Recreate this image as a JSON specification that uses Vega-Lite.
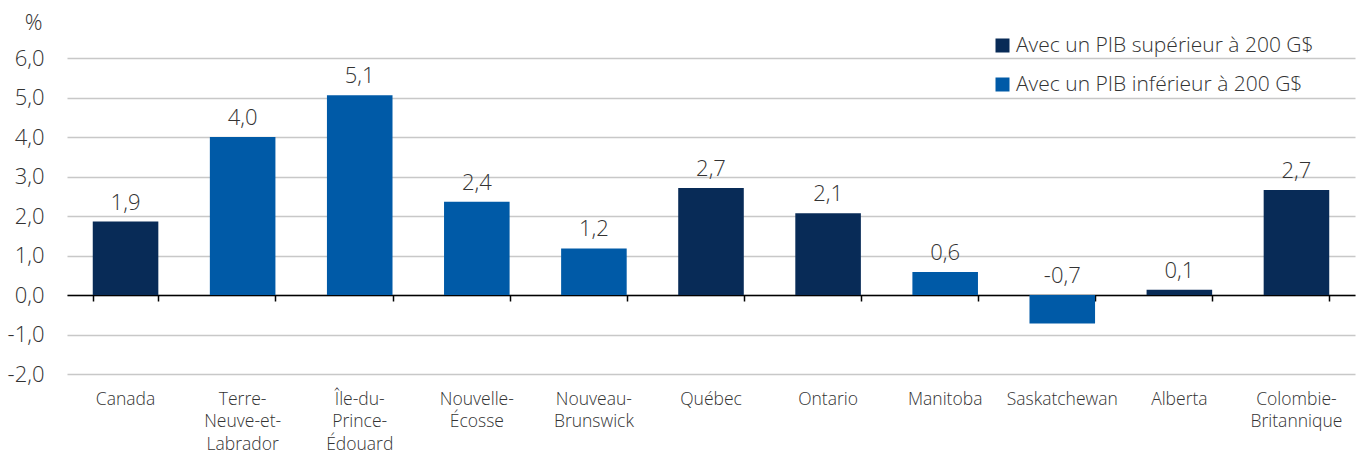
{
  "$schema": "https://vega.github.io/schema/vega-lite/v6.json",
  "autosize": {"type": "none"},
  "padding": {"left": 67, "top": 58, "right": 3, "bottom": 79},
  "width": 1288,
  "height": 316,
  "background": "white",
  "config": {
    "locale": {"number": {"decimal": ",", "thousands": " ", "grouping": [3], "currency": ["", " $"], "minus": "-"}},
    "font": "Open Sans",
    "view": {"stroke": null}
  },
  "data": {
    "values": [
      {"province": "Canada", "groupe": "Avec un PIB supérieur à 200 G$", "value": 1.86},
      {"province": "Terre-Neuve-et-Labrador", "groupe": "Avec un PIB inférieur à 200 G$", "value": 4.0},
      {"province": "Île-du-Prince-Édouard", "groupe": "Avec un PIB inférieur à 200 G$", "value": 5.06},
      {"province": "Nouvelle-Écosse", "groupe": "Avec un PIB inférieur à 200 G$", "value": 2.36},
      {"province": "Nouveau-Brunswick", "groupe": "Avec un PIB inférieur à 200 G$", "value": 1.18},
      {"province": "Québec", "groupe": "Avec un PIB supérieur à 200 G$", "value": 2.71},
      {"province": "Ontario", "groupe": "Avec un PIB supérieur à 200 G$", "value": 2.07},
      {"province": "Manitoba", "groupe": "Avec un PIB inférieur à 200 G$", "value": 0.58},
      {"province": "Saskatchewan", "groupe": "Avec un PIB inférieur à 200 G$", "value": -0.72},
      {"province": "Alberta", "groupe": "Avec un PIB supérieur à 200 G$", "value": 0.13},
      {"province": "Colombie-Britannique", "groupe": "Avec un PIB supérieur à 200 G$", "value": 2.66}
    ]
  },
  "resolve": {"axis": {"x": "independent", "y": "independent"}},
  "layer": [
    {
      "mark": {"type": "bar"},
      "encoding": {
        "x": {
          "field": "province", "type": "nominal", "sort": null,
          "scale": {"paddingInner": 0.44, "paddingOuter": 0.22},
          "axis": {
            "orient": "bottom",
            "title": null, "domain": false, "ticks": false, "labelAngle": 0,
            "labelFontSize": 17.5, "labelColor": "#333333", "labelFontWeight": 300,
            "labelPadding": 16, "labelLineHeight": 22.5, "labelBaseline": "top", "labelLimit": 0,
            "labelExpr": "datum.value == 'Terre-Neuve-et-Labrador' ? ['Terre-','Neuve-et-','Labrador'] : datum.value == 'Île-du-Prince-Édouard' ? ['Île-du-','Prince-','Édouard'] : indexof(datum.value,'-') > 0 ? [slice(datum.value,0,indexof(datum.value,'-')+1), slice(datum.value,indexof(datum.value,'-')+1)] : datum.value"
          }
        },
        "y": {
          "field": "value", "type": "quantitative",
          "scale": {"domain": [-2, 6], "nice": false, "zero": false},
          "axis": {
            "orient": "left",
            "title": "%", "titleAngle": 0, "titleX": -34, "titleY": -36, "titleAlign": "center",
            "titleBaseline": "middle", "titleFontSize": 22, "titleFontWeight": 300, "titleColor": "#333333",
            "values": [-2, -1, 0, 1, 2, 3, 4, 5, 6], "format": ".1f",
            "domain": false, "ticks": false, "labelPadding": 23,
            "labelFontSize": 22, "labelFontWeight": 300, "labelColor": "#333333",
            "grid": true, "gridColor": "#c8c8c8", "gridWidth": 1.5
          }
        },
        "color": {
          "field": "groupe", "type": "nominal",
          "scale": {"domain": ["Avec un PIB supérieur à 200 G$", "Avec un PIB inférieur à 200 G$"], "range": ["#082b57", "#005aa7"]},
          "legend": {
            "title": null, "orient": "none", "legendX": 925, "legendY": -23, "padding": 0,
            "symbolType": "square", "symbolSize": 196, "symbolStrokeWidth": 0,
            "labelFontSize": 21, "labelFontWeight": 300, "labelColor": "#333333", "labelOffset": 3,
            "rowPadding": 17, "labelLimit": 0
          }
        }
      }
    },
    {
      "transform": [{"filter": "datum.value >= 0"}],
      "mark": {"type": "text", "baseline": "bottom", "dy": -7, "fontSize": 22, "fontWeight": 300, "color": "#333333"},
      "encoding": {
        "x": {
          "field": "province", "type": "nominal", "sort": null,
          "axis": {"orient": "bottom", "title": null, "labels": false, "grid": false, "offset": -79, "domainColor": "#000000", "domainWidth": 1.5, "tickColor": "#000000", "tickWidth": 1.5, "tickSize": 6, "tickBand": "extent"}
        },
        "y": {"field": "value", "type": "quantitative", "axis": null},
        "text": {"field": "value", "type": "quantitative", "format": ".1f"}
      }
    },
    {
      "transform": [{"filter": "datum.value < 0"}],
      "mark": {"type": "text", "baseline": "bottom", "dy": -7, "fontSize": 22, "fontWeight": 300, "color": "#333333"},
      "encoding": {
        "x": {"field": "province", "type": "nominal", "sort": null, "axis": null},
        "y": {"datum": 0, "type": "quantitative", "axis": null},
        "text": {"field": "value", "type": "quantitative", "format": ".1f"}
      }
    }
  ]
}
